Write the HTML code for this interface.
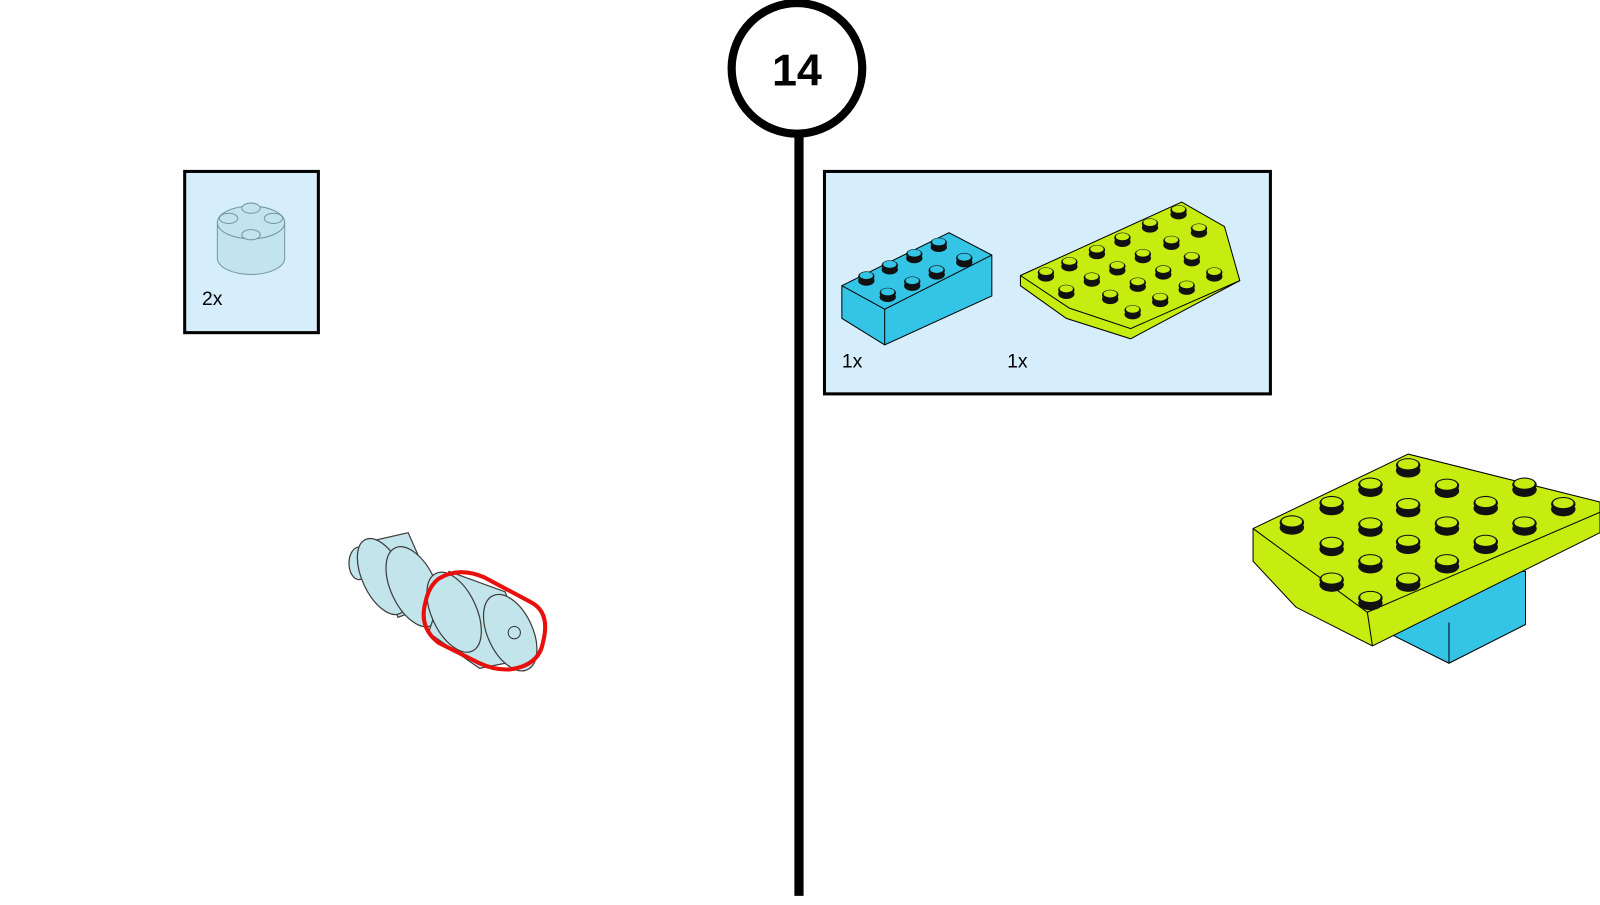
<!DOCTYPE html>
<html><head><style>
body{margin:0;width:1600px;height:900px;background:#fff;overflow:hidden;font-family:"Liberation Sans",sans-serif}
</style></head><body>
<svg width="1600" height="900" viewBox="0 0 1568 882" xmlns="http://www.w3.org/2000/svg">
<defs>
<g id="sg"><ellipse cx="0" cy="3" rx="12" ry="7" fill="#111"/><ellipse cx="0" cy="-2" rx="12" ry="7" fill="#111"/><ellipse cx="0" cy="-3" rx="10" ry="5" fill="#c6ec10"/></g>
<g id="ss"><ellipse cx="0" cy="3" rx="8" ry="5" fill="#111"/><ellipse cx="0" cy="-1" rx="8" ry="5" fill="#111"/><ellipse cx="0" cy="-2" rx="6.5" ry="3.5" fill="#c6ec10"/></g>
<g id="sb"><ellipse cx="0" cy="3" rx="8" ry="5" fill="#111"/><ellipse cx="0" cy="-1" rx="8" ry="5" fill="#111"/><ellipse cx="0" cy="-2" rx="6.5" ry="3.5" fill="#33c4e6"/></g>
</defs>
<line x1="783" y1="128" x2="783" y2="878" stroke="#000" stroke-width="9"/>
<circle cx="781" cy="67" r="64" fill="#fff" stroke="#000" stroke-width="8"/>
<text x="781" y="84" font-size="44" font-weight="bold" text-anchor="middle" font-family="Liberation Sans">14</text>
<rect x="181" y="168" width="131" height="158" fill="#d6eefb" stroke="#000" stroke-width="3"/>
<g fill="#bfe3ee" stroke="#6b8c96" stroke-width="1" opacity="0.9">
<path d="M213 218 v35 a33 16 0 0 0 66 0 v-35z"/>
<ellipse cx="246" cy="218" rx="33" ry="16"/>
<ellipse cx="224" cy="214" rx="9" ry="5"/><ellipse cx="268" cy="214" rx="9" ry="5"/>
<ellipse cx="246" cy="204" rx="9" ry="5"/><ellipse cx="246" cy="230" rx="9" ry="5"/>
</g>
<text x="198" y="299" font-size="19">2x</text>
<rect x="808" y="168" width="437" height="218" fill="#d6eefb" stroke="#000" stroke-width="3"/>
<polygon points="825,280 930,228 972,250 972,290 867,338 825,312" fill="#33c4e6" stroke="#000"/>
<polyline points="825,280 867,303 972,250" fill="none" stroke="#000"/>
<line x1="867" y1="303" x2="867" y2="338" stroke="#000"/>
<g>
<use href="#sb" x="849" y="272"/><use href="#sb" x="872" y="261"/><use href="#sb" x="896" y="250"/><use href="#sb" x="920" y="239"/>
<use href="#sb" x="870" y="288"/><use href="#sb" x="894" y="277"/><use href="#sb" x="918" y="266"/><use href="#sb" x="945" y="254"/>
</g>
<polygon points="1000,270 1158,198 1200,222 1215,275 1108,332 1045,312 1000,280" fill="#c6ec10" stroke="#000"/>
<polyline points="1000,270 1048,302 1108,322 1215,275" fill="none" stroke="#000"/>
<g>
<use href="#ss" x="1025" y="268"/><use href="#ss" x="1048" y="258"/><use href="#ss" x="1075" y="246"/><use href="#ss" x="1100" y="234"/><use href="#ss" x="1127" y="220"/><use href="#ss" x="1155" y="207"/>
<use href="#ss" x="1045" y="285"/><use href="#ss" x="1070" y="273"/><use href="#ss" x="1095" y="262"/><use href="#ss" x="1120" y="250"/><use href="#ss" x="1148" y="237"/><use href="#ss" x="1175" y="225"/>
<use href="#ss" x="1088" y="290"/><use href="#ss" x="1115" y="278"/><use href="#ss" x="1140" y="266"/><use href="#ss" x="1168" y="253"/>
<use href="#ss" x="1110" y="305"/><use href="#ss" x="1137" y="293"/><use href="#ss" x="1163" y="281"/><use href="#ss" x="1190" y="268"/>
</g>
<text x="825" y="360" font-size="19">1x</text>
<text x="987" y="360" font-size="19">1x</text>
<polygon points="1360,560 1495,560 1495,612 1420,650 1360,620" fill="#33c4e6" stroke="#000"/>
<line x1="1420" y1="610" x2="1420" y2="650" stroke="#000"/>
<polygon points="1228,518 1380,445 1568,492 1568,522 1345,633 1270,595 1228,550" fill="#c6ec10" stroke="#000"/>
<polyline points="1228,518 1340,600 1568,502" fill="none" stroke="#000"/>
<line x1="1340" y1="600" x2="1345" y2="633" stroke="#000"/>
<g>
<use href="#sg" x="1266" y="514"/><use href="#sg" x="1305" y="495"/><use href="#sg" x="1343" y="477"/><use href="#sg" x="1380" y="458"/>
<use href="#sg" x="1305" y="535"/><use href="#sg" x="1343" y="516"/><use href="#sg" x="1380" y="497"/><use href="#sg" x="1418" y="478"/>
<use href="#sg" x="1305" y="570"/><use href="#sg" x="1343" y="552"/><use href="#sg" x="1380" y="533"/><use href="#sg" x="1418" y="515"/><use href="#sg" x="1456" y="495"/><use href="#sg" x="1494" y="477"/>
<use href="#sg" x="1343" y="588"/><use href="#sg" x="1380" y="570"/><use href="#sg" x="1418" y="552"/><use href="#sg" x="1456" y="533"/><use href="#sg" x="1494" y="515"/><use href="#sg" x="1532" y="496"/>
</g>
<g stroke="#333" stroke-width="1.2" fill="#bfe3ea" opacity="0.95">
<ellipse cx="352" cy="552" rx="10" ry="16"/>
<path d="M365 530 L400 522 L430 590 L390 605 Z"/>
<ellipse cx="375" cy="565" rx="20" ry="40" transform="rotate(-25 375 565)"/>
<ellipse cx="405" cy="575" rx="22" ry="42" transform="rotate(-25 405 575)"/>
<path d="M440 560 L495 580 L520 645 L470 655 L420 620 Z"/>
<ellipse cx="445" cy="600" rx="22" ry="42" transform="rotate(-25 445 600)"/>
<ellipse cx="500" cy="620" rx="22" ry="40" transform="rotate(-25 500 620)"/>
</g>
<path d="M430 567 Q450 555 475 566 L520 590 Q540 600 532 630 Q528 652 500 656 Q485 657 470 650 L430 630 Q410 615 417 590 Q420 575 430 567 Z" fill="none" stroke="#e8100c" stroke-width="4"/>
<circle cx="504" cy="620" r="6" fill="none" stroke="#333"/>
</svg>
</body></html>
